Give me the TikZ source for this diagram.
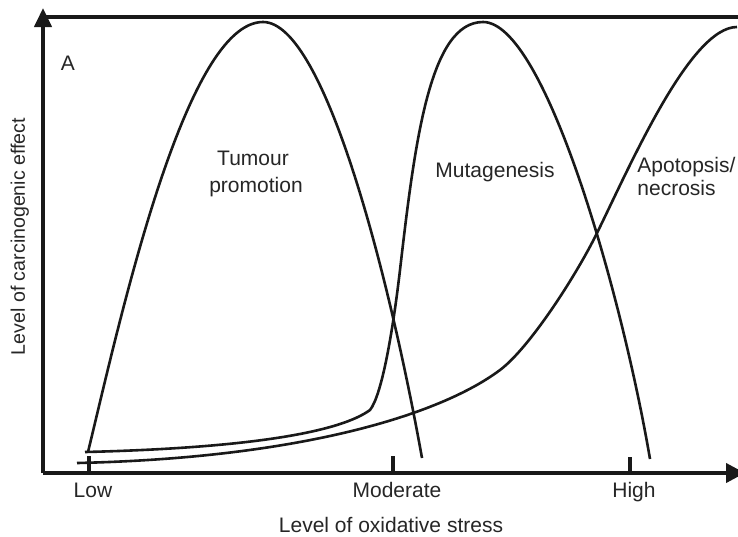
\documentclass[tikz,border=0pt]{standalone}
\usepackage{fontspec}
\setmainfont{Liberation Sans}
\usetikzlibrary{arrows.meta}
\begin{document}
\begin{tikzpicture}[x=0.5pt,y=-0.5pt,
  axis/.style={line width=2pt,draw=black!90},
  tickmark/.style={line width=1.6pt,draw=black!90},
  curve/.style={line width=1.3pt,draw=black!90,line join=round},
  lbl/.style={font=\fontsize{10.5}{12.6}\selectfont,inner sep=0pt,anchor=base,text=black!85}]
\clip (0,0) rectangle (738,536);
\fill[white] (0,0) rectangle (738,536);
% axes
\coordinate (O) at (43,473);
\coordinate (ytop) at (43,8);
\coordinate (xend) at (745,473);
\coordinate (tl) at (43,17);
\coordinate (tr) at (738,17);
\draw[axis,-{Triangle[length=9.5pt,width=8.5pt]}] (O) -- (ytop);
\draw[axis,-{Triangle[length=9.5pt,width=9.5pt]}] (O) -- (xend);
\draw[axis] (tl) -- (tr);
% ticks
\coordinate (tLow) at (89,473);
\coordinate (tMod) at (393,473);
\coordinate (tHigh) at (630,473);
\draw[tickmark] (tLow) -- ++(0,-17);
\draw[tickmark] (tMod) -- ++(0,-17);
\draw[tickmark] (tHigh) -- ++(0,-16);
% tumour promotion
\coordinate (tpA) at (88,452);
\coordinate (tpP) at (263,22);
\coordinate (tpE) at (422,458);
\draw[curve] (tpA) .. controls (120,320) and (185,22) .. (tpP)
                   .. controls (325,22) and (390,280) .. (tpE);
% mutagenesis
\coordinate (muA) at (85,452);
\coordinate (muK) at (370,410);
\coordinate (muM) at (400,270);
\coordinate (muP) at (483,22);
\coordinate (muE) at (650,459);
\draw[curve] (muA) .. controls (250,448) and (340,432) .. (muK)
                   .. controls (382,395) and (393,330) .. (muM)
                   .. controls (415,140) and (430,22) .. (muP)
                   .. controls (545,22) and (622,295) .. (muE);
% apoptosis / necrosis
\coordinate (apA) at (77,463);
\coordinate (apM) at (500,370);
\coordinate (apN) at (597,233);
\coordinate (apE) at (737,27);
\draw[curve] (apA) .. controls (300,458) and (440,415) .. (apM)
                   .. controls (530,347.5) and (577,274) .. (apN)
                   .. controls (630,166) and (690,27) .. (apE);
% labels
\node[lbl] (A) at (68,70) {A};
\node[lbl] (tum1) at (253,165) {Tumour};
\node[lbl] (tum2) at (256,192) {promotion};
\node[lbl] (mut) at (495,177) {Mutagenesis};
\node[lbl,anchor=base west] (apo1) at (637,172) {Apotopsis/};
\node[lbl,anchor=base west] (apo2) at (637,195) {necrosis};
\node[lbl] (low) at (93,497) {Low};
\node[lbl] (mod) at (397,497) {Moderate};
\node[lbl] (high) at (634,497) {High};
\node[lbl] (xl) at (391,532) {Level of oxidative stress};
\node[lbl,rotate=90,font=\fontsize{9.8}{11.8}\selectfont] (yl) at (25,236.5) {Level of carcinogenic effect};
\end{tikzpicture}
\end{document}
